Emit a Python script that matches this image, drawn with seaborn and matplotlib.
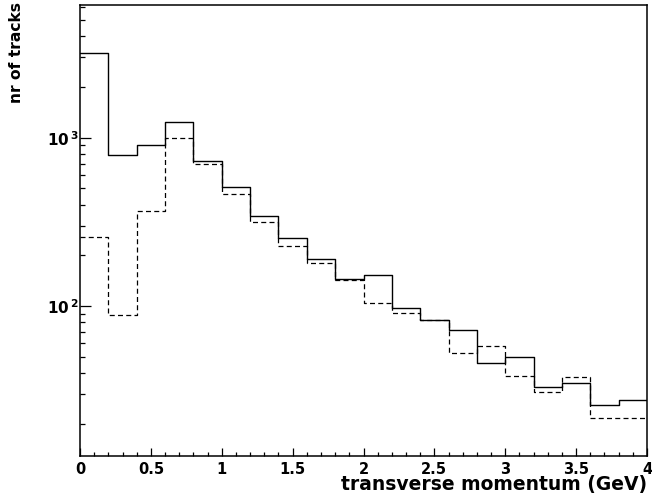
import numpy as np
import pandas as pd
import matplotlib
matplotlib.use("Agg")
from matplotlib import pyplot as plt
from matplotlib import ticker
import seaborn as sns

# transverse momentum bins (GeV), 0.2 wide
bin_edges = [0.0, 0.2, 0.4, 0.6, 0.8, 1.0, 1.2, 1.4, 1.6, 1.8, 2.0,
             2.2, 2.4, 2.6, 2.8, 3.0, 3.2, 3.4, 3.6, 3.8, 4.0]
pt_centers = [0.1, 0.3, 0.5, 0.7, 0.9, 1.1, 1.3, 1.5, 1.7, 1.9,
              2.1, 2.3, 2.5, 2.7, 2.9, 3.1, 3.3, 3.5, 3.7, 3.9]

# nr of tracks per bin
n_solid = [3170, 786, 901, 1240, 730, 509, 344, 255, 190, 144,
           152, 97, 83, 72, 45.6, 49.6, 33, 34.7, 25.7, 27.7]
n_dashed = [258, 88.4, 367, 991, 701, 461, 314, 226, 181, 143,
            104.6, 90.5, 82.2, 52.4, 57.6, 38.5, 30.8, 37.7, 21.7, 21.7]

y_ticks = [100, 1000]

df = pd.DataFrame({"pt": pt_centers, "solid": n_solid, "dashed": n_dashed})

sns.set_style("ticks")
plt.rcParams["font.family"] = ["DejaVu Sans"]
plt.rcParams["font.weight"] = "bold"
plt.rcParams["mathtext.default"] = "regular"
for k in ["text.color", "axes.labelcolor", "xtick.color", "ytick.color", "axes.edgecolor"]:
    plt.rcParams[k] = "black"

fig = plt.figure(figsize=(6.52, 5.04), dpi=100)
ax = fig.add_axes([80 / 652, 48 / 504, 567 / 652, 451 / 504])

sns.histplot(data=df, x="pt", weights="solid", bins=bin_edges, element="step",
             fill=False, color="black", linewidth=1.0, ax=ax)
sns.histplot(data=df, x="pt", weights="dashed", bins=bin_edges, element="step",
             fill=False, color="black", linewidth=0.9, linestyle=(0, (4, 2.6)), ax=ax)

ax.set_yscale("log")
ax.set_xlim(0, 4)
ax.set_ylim(12.85, 6143)

ax.xaxis.set_major_locator(ticker.MultipleLocator(0.5))
ax.xaxis.set_minor_locator(ticker.MultipleLocator(0.1))
ax.xaxis.set_major_formatter(ticker.FuncFormatter(lambda v, p: f"{v:g}"))

ax.yaxis.set_major_locator(ticker.FixedLocator(y_ticks))
ax.yaxis.set_major_formatter(ticker.FuncFormatter(
    lambda v, p: r"$\mathbf{10^{\,%d}}$" % round(np.log10(v))))
ax.yaxis.set_minor_locator(ticker.LogLocator(base=10, subs=np.arange(2, 10)))
ax.yaxis.set_minor_formatter(ticker.NullFormatter())

ax.tick_params(which="both", direction="in", top=False, right=False)
ax.tick_params(axis="x", which="major", length=5.8, width=0.9, labelsize=10.5, pad=4)
ax.tick_params(axis="x", which="minor", length=2.9, width=0.9)
ax.tick_params(axis="y", which="major", length=8, width=0.9, labelsize=11, pad=1)
ax.tick_params(axis="y", which="minor", length=3.6, width=0.9)

for s in ax.spines.values():
    s.set_visible(True)
    s.set_linewidth(1.1)

ax.set_ylabel("")
ax.set_xlabel("transverse momentum (GeV)", fontsize=13.5, fontweight="bold")
ax.xaxis.set_label_coords(1.0, -0.043)
ax.xaxis.label.set_horizontalalignment("right")

fig.text(16.5 / 652, 1 - 2 / 504, "nr of tracks", rotation=90, ha="center", va="top",
         fontsize=11.2, fontweight="bold")

fig.savefig("out.png", dpi=100)
